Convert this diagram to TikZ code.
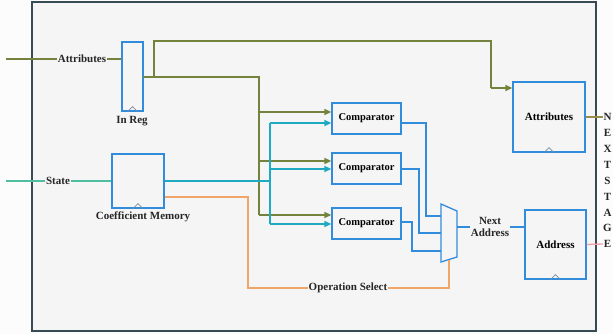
\documentclass[tikz,border=0pt]{standalone}
\usepackage{fontspec}
\setmainfont{Liberation Serif}
\usetikzlibrary{arrows.meta}
\definecolor{olivec}{RGB}{115,130,60}
\definecolor{tealc}{RGB}{30,170,195}
\definecolor{stategreen}{RGB}{80,190,160}
\definecolor{boxblue}{RGB}{50,140,220}
\definecolor{orangec}{RGB}{240,165,105}
\definecolor{framec}{RGB}{55,75,85}
\definecolor{pinkc}{RGB}{240,160,170}
\definecolor{bgc}{RGB}{245,245,246}
\definecolor{clockc}{RGB}{120,140,160}
\tikzset{
  x=1pt,y=-1pt,
  lbl/.style={font=\bfseries\fontsize{11}{12.5}\selectfont, text=black!85, inner sep=1pt},
  lblbg/.style={lbl, fill=bgc},
  regbox/.style={draw=boxblue, line width=1.3pt, fill=bgc, inner sep=0pt},
  compbox/.style={regbox, minimum width=69pt, minimum height=31pt, font=\bfseries\fontsize{10.5}{12}\selectfont},
  wire/.style={line width=1.3pt},
  arr/.style={wire, -{Triangle[length=7pt,width=6pt]}},
  clk/.style={draw=clockc, line width=0.7pt}
}
\begin{document}
\begin{tikzpicture}
\useasboundingbox (0,0) rectangle (613,334);
\fill[white!98!gray] (0,0) rectangle (613,334);
\draw[framec, line width=1.3pt, fill=bgc] (32,2) rectangle (596,331);

% registers
\node[regbox, minimum width=21pt, minimum height=69pt] (inreg) at (132.5,76.5) {};
\node[lbl] (inreglbl) at (132,121) {In Reg};
\node[regbox, minimum width=52pt, minimum height=54pt] (cm) at (138,181) {};
\node[lbl] (cmlbl) at (143,217) {Coefficient Memory};
\node[compbox] (c1) at (366.5,118.5) {Comparator};
\node[compbox] (c2) at (366.5,168.5) {Comparator};
\node[compbox] (c3) at (366.5,223.5) {Comparator};
\node[regbox, minimum width=72pt, minimum height=70pt, font=\bfseries\fontsize{11}{12.5}\selectfont] (attr) at (549,117) {Attributes};
\node[regbox, minimum width=61pt, minimum height=69pt, font=\bfseries\fontsize{11}{12.5}\selectfont] (addr) at (555.5,244.5) {Address};

% clock marks
\foreach \b in {inreg,cm,attr,addr}{
  \draw[clk] ([xshift=-5pt]\b.south) -- ([yshift=5pt]\b.south) -- ([xshift=5pt]\b.south);
}

% mux
\coordinate (mtl) at (441,204);
\coordinate (mtr) at (457,211);
\coordinate (mbr) at (457,257);
\coordinate (mbl) at (441,262);
\draw[boxblue, line width=1.3pt, fill=bgc] (mtl) -- (mtr) -- (mbr) -- (mbl) -- cycle;
\coordinate (min1) at (441,216);
\coordinate (min2) at (441,233);
\coordinate (min3) at (441,251);
\coordinate (mout) at (457,227);
\coordinate (msel) at (449,260);

% inputs
\coordinate (attrin) at (6,59);
\coordinate (statein) at (6,181);
\node[lblbg] (attrlbl) at (82,59) {Attributes};
\node[lblbg] (statelbl) at (58,181) {State};
\draw[olivec, wire] (attrin) -- (attrlbl.west);
\draw[olivec, wire] (attrlbl.east) -- (inreg.west |- attrlbl.east);
\draw[stategreen, wire] (statein) -- (statelbl.west);
\draw[stategreen, wire] (statelbl.east) -- (cm.west);

% In Reg outputs
\coordinate (ir) at (143,77);
\draw[olivec, wire] (ir) -- (259,77) -- (259,215);
\draw[arr, olivec] (259,112) -- (c1.west |- 0,112);
\draw[arr, olivec] (259,161) -- (c2.west |- 0,161);
\draw[arr, olivec] (259,215) -- (c3.west |- 0,215);
\draw[olivec, wire] (154,77) -- (154,41) -- (491,41) -- (491,88);
\draw[arr, olivec] (491,88) -- (attr.west |- 0,88);

% Coefficient memory outputs
\draw[tealc, wire] (cm.east |- 0,181) -- (270,181);
\draw[tealc, wire] (270,123) -- (270,224);
\draw[arr, tealc] (270,123) -- (c1.west |- 0,123);
\draw[arr, tealc] (270,169) -- (c2.west |- 0,169);
\draw[arr, tealc] (270,224) -- (c3.west |- 0,224);

\node[lblbg] (opsel) at (348,288) {Operation Select};
\draw[orangec, wire] (cm.east |- 0,197) -- (248,197) -- (248,288) -- (opsel.west);
\draw[orangec, wire] (opsel.east) -- (449,288) -- (msel);

% comparator outputs
\draw[boxblue, wire] (c1.east |- 0,123) -- (426,123) -- (426,216) -- (min1);
\draw[boxblue, wire] (c2.east |- 0,169) -- (419,169) -- (419,233) -- (min2);
\draw[boxblue, wire] (c3.east |- 0,222) -- (412,222) -- (412,251) -- (min3);

% mux output
\node[lblbg, align=center] (nxt) at (490,227) {Next\\Address};
\draw[boxblue, wire] (mout) -- (nxt.west);
\draw[boxblue, wire] (nxt.east) -- (addr.west |- nxt.east);

% next stage
\coordinate (o1) at (603,117);
\coordinate (o2) at (603,244);
\draw[olivec!70!orangec, wire] (attr.east) -- (o1);
\draw[pinkc, wire] (addr.east) -- (o2);
\foreach \l [count=\i from 0] in {N,E,X,T,S,T,A,G,E}{
  \node[lbl, inner sep=0pt] (ns\i) at (607.5,117+15.9*\i) {\l};
}
\end{tikzpicture}
\end{document}
